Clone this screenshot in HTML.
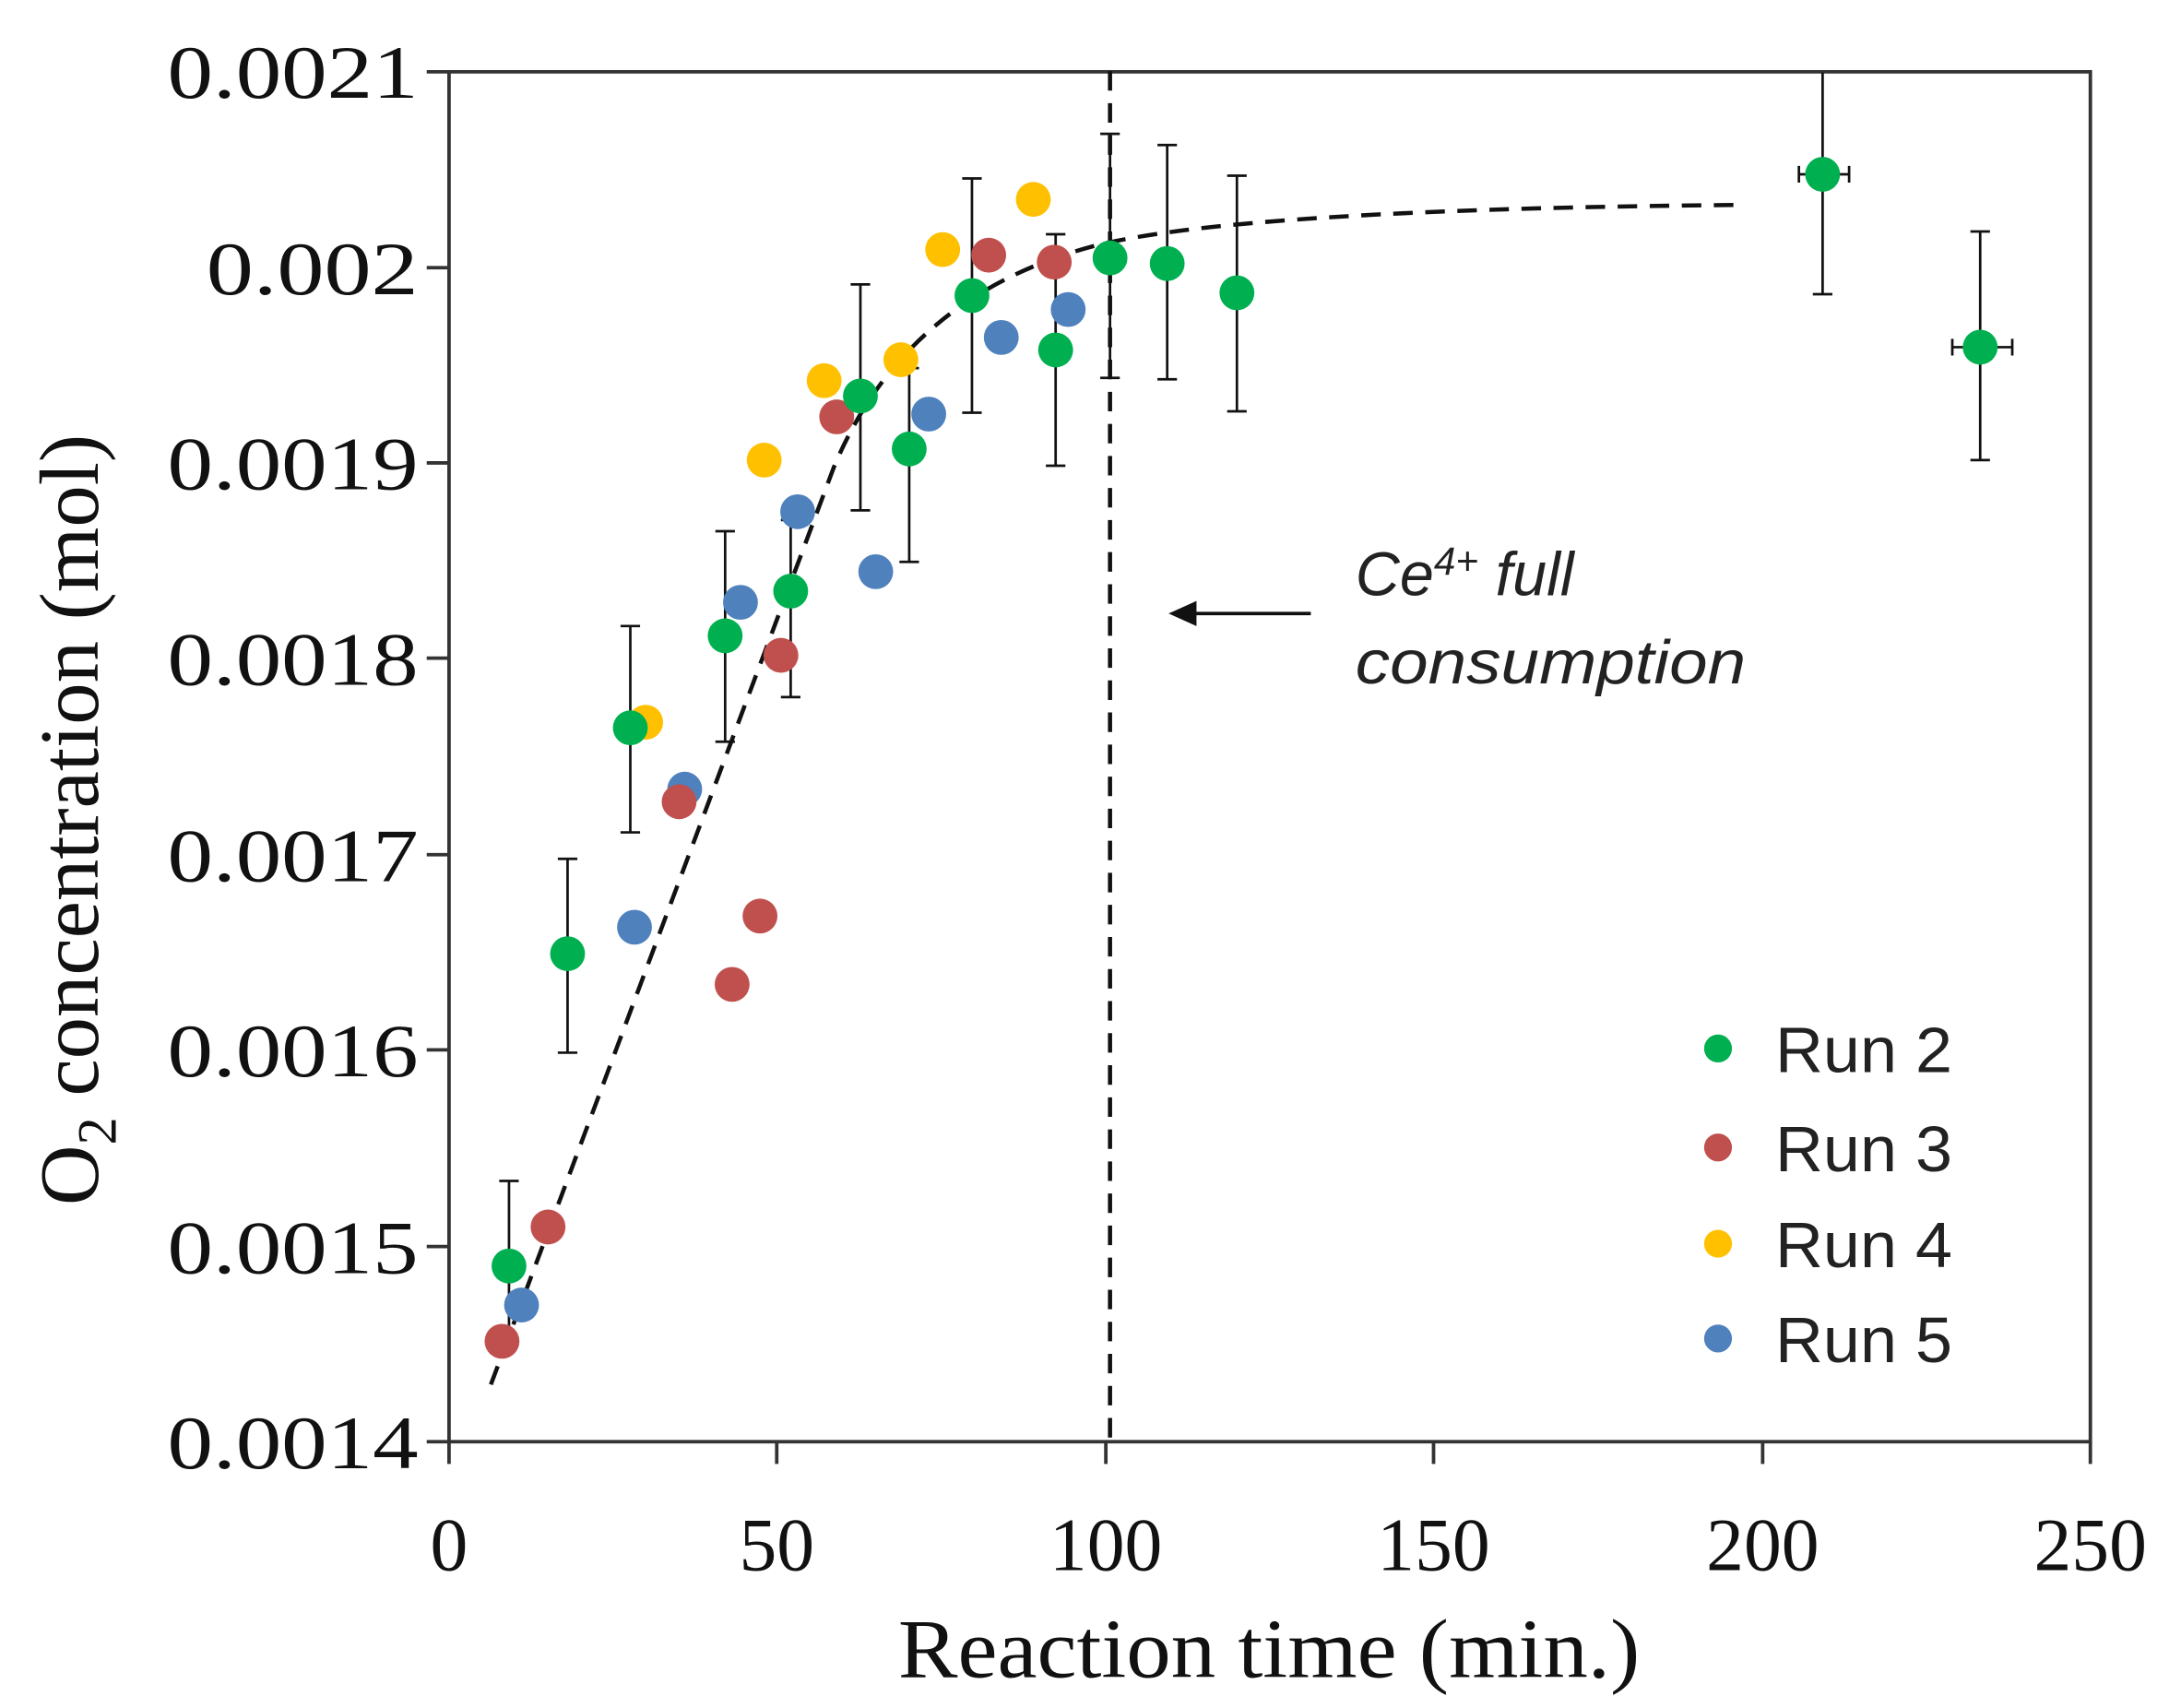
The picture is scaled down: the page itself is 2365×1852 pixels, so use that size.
<!DOCTYPE html>
<html><head><style>html,body{margin:0;padding:0;background:#fff}svg{display:block}</style></head>
<body>
<svg width="2365" height="1852" viewBox="0 0 1564 1225" preserveAspectRatio="none" xmlns="http://www.w3.org/2000/svg">
<rect width="1564" height="1225" fill="#fff"/>
<g stroke="#333" stroke-width="2.5" fill="none">
<rect x="322" y="51.5" width="1177" height="982.5"/>
<path d="M306 51.5H322M306 192H322M306 332H322M306 472H322M306 613H322M306 753H322M306 894H322M306 1034H322"/>
<path d="M322 1034V1050M557 1034V1050M793 1034V1050M1028 1034V1050M1264 1034V1050M1499 1034V1050"/>
</g>
<g font-family="Liberation Serif, serif" font-size="54" fill="#111" text-anchor="end" lengthAdjust="spacingAndGlyphs">
<text x="300" y="70" textLength="180" lengthAdjust="spacingAndGlyphs">0.0021</text>
<text x="300" y="211" textLength="152" lengthAdjust="spacingAndGlyphs">0.002</text>
<text x="300" y="351" textLength="180" lengthAdjust="spacingAndGlyphs">0.0019</text>
<text x="300" y="491" textLength="180" lengthAdjust="spacingAndGlyphs">0.0018</text>
<text x="300" y="632" textLength="180" lengthAdjust="spacingAndGlyphs">0.0017</text>
<text x="300" y="772" textLength="180" lengthAdjust="spacingAndGlyphs">0.0016</text>
<text x="300" y="913" textLength="180" lengthAdjust="spacingAndGlyphs">0.0015</text>
<text x="300" y="1053" textLength="180" lengthAdjust="spacingAndGlyphs">0.0014</text>
</g>
<g font-family="Liberation Serif, serif" font-size="54" fill="#111" text-anchor="middle">
<text x="322" y="1126">0</text><text x="557" y="1126">50</text><text x="793" y="1126">100</text>
<text x="1028" y="1126">150</text><text x="1264" y="1126">200</text><text x="1499" y="1126">250</text>
<text x="910" y="1203" font-size="60" textLength="532" lengthAdjust="spacingAndGlyphs">Reaction time (min.)</text>
<text transform="translate(70,588) rotate(-90)" font-size="60">O<tspan font-size="40" dy="13">2</tspan><tspan dy="-13"> concentration (mol)</tspan></text>
</g>
<path d="M796 51V1037" stroke="#111" stroke-width="3" stroke-dasharray="14,9" fill="none"/>
<path d="M352 993L598 335Q650 210 790 175Q900 150 1245 147" stroke="#111" stroke-width="3" stroke-dasharray="14,9" fill="none"/>
<g stroke="#111" stroke-width="1.8" fill="none">
<path d="M365 847V960M358 847H372"/>
<path d="M407 616V755M400 616H414M400 755H414"/>
<path d="M452 449V597M445 449H459M445 597H459"/>
<path d="M520 381V532M513 381H527M513 532H527"/>
<path d="M567 373V500M560 373H574M560 500H574"/>
<path d="M617 204V366M610 204H624M610 366H624"/>
<path d="M652 264V403M645 264H659M645 403H659"/>
<path d="M697 128V296M690 128H704M690 296H704"/>
<path d="M757 168V334M750 168H764M750 334H764"/>
<path d="M796 96V271M789 96H803M789 271H803"/>
<path d="M837 104V272M830 104H844M830 272H844"/>
<path d="M887 126V295M880 126H894M880 295H894"/>
<path d="M1307 52V211M1300 211H1314M1290 125H1326M1290 119V131M1326 119V131"/>
<path d="M1420 166V330M1413 166H1427M1413 330H1427M1400 249H1443M1400 243V255M1443 243V255"/>
</g>
<g fill="#4f81bd">
<circle cx="374" cy="936" r="12.5"/><circle cx="455" cy="665" r="12.5"/><circle cx="491" cy="566" r="12.5"/>
<circle cx="531" cy="432" r="12.5"/><circle cx="572" cy="367" r="12.5"/><circle cx="628" cy="410" r="12.5"/>
<circle cx="666" cy="297" r="12.5"/><circle cx="718" cy="242" r="12.5"/><circle cx="766" cy="222" r="12.5"/>
</g>
<g fill="#c0504d">
<circle cx="360" cy="962" r="12.5"/><circle cx="393" cy="880" r="12.5"/><circle cx="487" cy="575" r="12.5"/>
<circle cx="525" cy="706" r="12.5"/><circle cx="545" cy="657" r="12.5"/><circle cx="560" cy="470" r="12.5"/>
<circle cx="600" cy="299" r="12.5"/><circle cx="709" cy="183" r="12.5"/><circle cx="756" cy="188" r="12.5"/>
</g>
<g fill="#ffc000">
<circle cx="463" cy="518" r="12.5"/><circle cx="548" cy="330" r="12.5"/><circle cx="591" cy="273" r="12.5"/>
<circle cx="646" cy="258" r="12.5"/><circle cx="676" cy="179" r="12.5"/><circle cx="741" cy="143" r="12.5"/>
</g>
<g fill="#00b050">
<circle cx="365" cy="908" r="12.5"/><circle cx="407" cy="684" r="12.5"/><circle cx="452" cy="522" r="12.5"/>
<circle cx="520" cy="456" r="12.5"/><circle cx="567" cy="424" r="12.5"/><circle cx="617" cy="284" r="12.5"/>
<circle cx="652" cy="322" r="12.5"/><circle cx="697" cy="212" r="12.5"/><circle cx="757" cy="251" r="12.5"/>
<circle cx="796" cy="185" r="12.5"/><circle cx="837" cy="189" r="12.5"/><circle cx="887" cy="210" r="12.5"/>
<circle cx="1307" cy="125" r="12.5"/><circle cx="1420" cy="249" r="12.5"/>
</g>
<path d="M940 440H850" stroke="#111" stroke-width="2.5"/>
<path d="M838 440L858 431L858 449Z" fill="#111"/>
<g font-family="Liberation Sans, sans-serif" font-style="italic" font-size="44" fill="#222">
<text x="972" y="427">Ce<tspan font-size="28" dy="-15">4+</tspan><tspan dy="15"> full</tspan></text>
<text x="972" y="490" textLength="280" lengthAdjust="spacingAndGlyphs">consumption</text>
</g>
<circle cx="1232" cy="752" r="10" fill="#00b050"/><circle cx="1232" cy="823" r="10" fill="#c0504d"/>
<circle cx="1232" cy="892" r="10" fill="#ffc000"/><circle cx="1232" cy="960" r="10" fill="#4f81bd"/>
<g font-family="Liberation Sans, sans-serif" font-size="46" fill="#222">
<text x="1273" y="769" textLength="127" lengthAdjust="spacingAndGlyphs">Run 2</text>
<text x="1273" y="840" textLength="127" lengthAdjust="spacingAndGlyphs">Run 3</text>
<text x="1273" y="909" textLength="127" lengthAdjust="spacingAndGlyphs">Run 4</text>
<text x="1273" y="977" textLength="127" lengthAdjust="spacingAndGlyphs">Run 5</text>
</g>
</svg>
</body></html>
